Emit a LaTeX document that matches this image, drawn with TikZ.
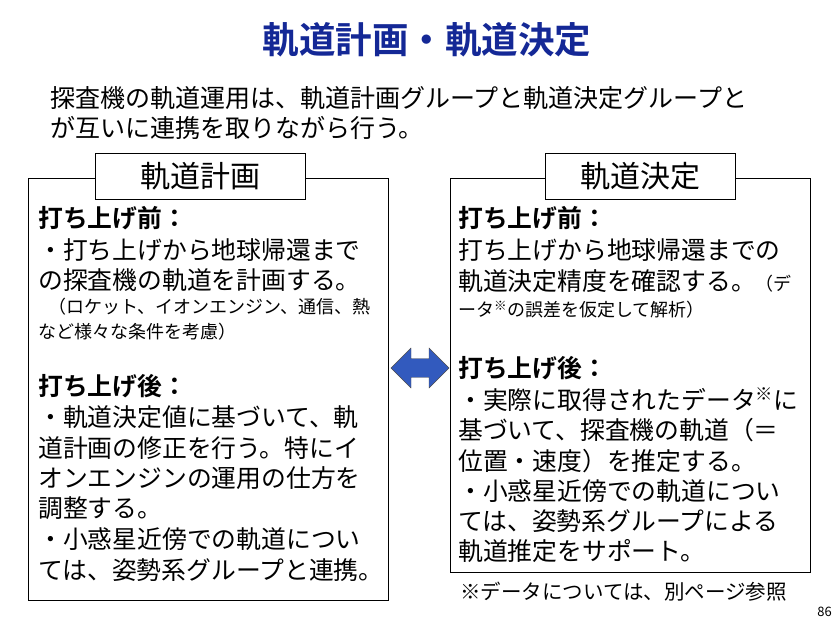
\documentclass[tikz,border=0pt]{standalone}
\usepackage{fontspec}
\setmainfont{Noto Sans CJK JP}
\newfontfamily\jpb{Noto Sans CJK JP Bold}
\usetikzlibrary{shapes.arrows}
\definecolor{ttl}{RGB}{20,40,150}
\definecolor{arr}{RGB}{50,90,190}
\tikzset{
 t/.style={anchor=west,inner sep=0pt,font=\fontsize{24.8}{24.8}\selectfont},
 s/.style={anchor=west,inner sep=0pt,font=\fontsize{18}{18}\selectfont},
 h/.style={anchor=west,inner sep=0pt,font=\jpb\fontsize{24.8}{24.8}\selectfont},
 frame/.style={draw=black,line width=1pt},
 tbox/.style={draw=black,line width=1pt,fill=white,minimum height=46pt,font=\fontsize{30}{30}\selectfont}
}
\begin{document}
\begin{tikzpicture}[x=1pt,y=-1pt]
\useasboundingbox (0,0) rectangle (840,632);
\node[inner sep=0pt,font=\jpb\fontsize{36.5}{36.5}\selectfont,text=ttl] (title) at (427,40) {軌道計画・軌道決定};
\node[t,font=\fontsize{25}{25}\selectfont] (i1) at (50,98) {探査機の軌道運用は、軌道計画グループと軌道決定グループと};
\node[t,font=\fontsize{25}{25}\selectfont] (i2) at (50,128) {が互いに連携を取りながら行う。};
\draw[frame] (28,178) rectangle (388,600);
\node[tbox,minimum width=210pt] (lt) at (200,176) {軌道計画};
\draw[frame] (450,178) rectangle (810,572);
\node[tbox,minimum width=190pt] (rt) at (640,176) {軌道決定};
\node[h] (l1) at (38,218) {打ち上げ前：};
\node[t] (l2) at (38,250) {・打ち上げから地球帰還まで};
\node[t] (l3) at (38,280) {の探査機の軌道を計画する。};
\node[s] (l4) at (48,307) {（ロケット、イオンエンジン、通信、熱};
\node[s] (l5) at (38,332) {など様々な条件を考慮）};
\node[h] (l6) at (38,386) {打ち上げ後：};
\node[t] (l7) at (38,417) {・軌道決定値に基づいて、軌};
\node[t] (l8) at (38,448) {道計画の修正を行う。特にイ};
\node[t] (l9) at (38,478) {オンエンジンの運用の仕方を};
\node[t] (l10) at (38,508) {調整する。};
\node[t] (l11) at (38,539) {・小惑星近傍での軌道につい};
\node[t] (l12) at (38,570) {ては、姿勢系グループと連携。};
\node[h] (r1) at (458,218) {打ち上げ前：};
\node[t] (r2) at (458,250) {打ち上げから地球帰還までの};
\node[t] (r3) at (458,281) {軌道決定精度を確認する。\fontsize{18}{18}\selectfont（デ};
\node[s] (r4) at (458,310) {ータ\textsuperscript{※}の誤差を仮定して解析）};
\node[h] (r5) at (458,368) {打ち上げ後：};
\node[t] (r6) at (458,400) {・実際に取得されたデータ\textsuperscript{※}に};
\node[t] (r7) at (458,430) {基づいて、探査機の軌道（＝};
\node[t] (r8) at (458,461) {位置・速度）を推定する。};
\node[t] (r9) at (458,491) {・小惑星近傍での軌道につい};
\node[t] (r10) at (458,521) {ては、姿勢系グループによる};
\node[t] (r11) at (458,551) {軌道推定をサポート。};
\node[s,font=\fontsize{20.5}{20.5}\selectfont] (fn) at (460,592) {※データについては、別ページ参照};
\node[anchor=east,inner sep=0pt,font=\fontsize{13}{13}\selectfont] (pg) at (832,612) {86};
\node[double arrow,draw=black!70,fill=arr,minimum width=40pt,minimum height=58pt,double arrow head extend=6pt,inner sep=5pt] (da) at (420,368) {};
\end{tikzpicture}
\end{document}
